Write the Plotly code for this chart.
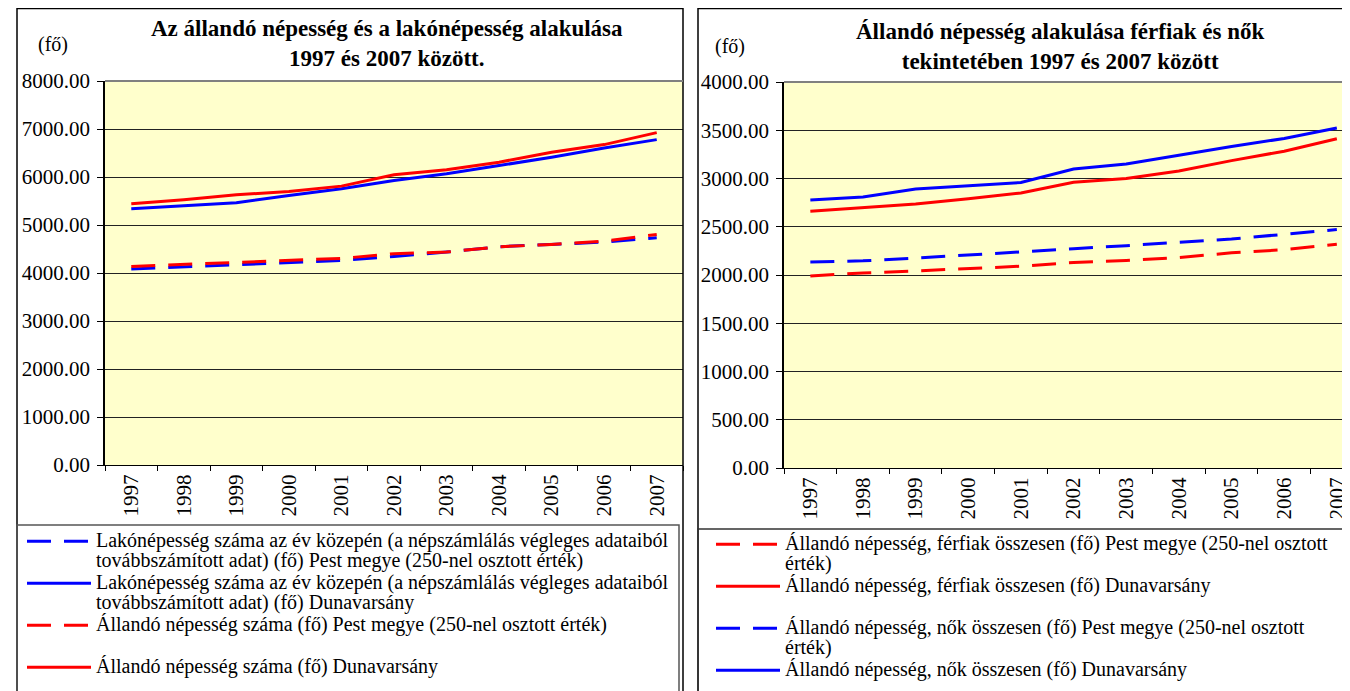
import plotly.graph_objects as go

years = ["1997", "1998", "1999", "2000", "2001", "2002", "2003", "2004", "2005", "2006", "2007"]

# Left chart (fő)
lako_pest = [4083, 4125, 4166, 4208, 4263, 4346, 4436, 4547, 4595, 4644, 4734]
lako_duna = [5339, 5402, 5464, 5616, 5754, 5927, 6066, 6239, 6412, 6606, 6779]
allando_pest = [4138, 4180, 4221, 4256, 4304, 4401, 4436, 4547, 4595, 4664, 4803]
allando_duna = [5443, 5526, 5630, 5699, 5810, 6045, 6149, 6308, 6516, 6675, 6924]

# Right chart (fő)
ferfi_pest = [1990, 2021, 2042, 2066, 2091, 2129, 2150, 2181, 2230, 2262, 2318]
ferfi_duna = [2661, 2700, 2735, 2791, 2850, 2962, 3000, 3077, 3185, 3283, 3412]
no_pest = [2136, 2147, 2175, 2206, 2234, 2272, 2304, 2339, 2373, 2422, 2471]
no_duna = [2777, 2808, 2892, 2927, 2958, 3098, 3150, 3241, 3332, 3415, 3524]

left_names = [
    "Lakónépesség száma az év közepén (a népszámlálás végleges adataiból<br>továbbszámított adat) (fő) Pest megye (250-nel osztott érték)",
    "Lakónépesség száma az év közepén (a népszámlálás végleges adataiból<br>továbbszámított adat) (fő) Dunavarsány",
    "Állandó népesség száma (fő) Pest megye (250-nel osztott érték)<br> ",
    "Állandó népesség száma (fő) Dunavarsány",
]
right_names = [
    "Állandó népesség, férfiak összesen (fő) Pest megye (250-nel osztott<br>érték)",
    "Állandó népesség, férfiak összesen (fő) Dunavarsány<br> ",
    "Állandó népesség, nők összesen (fő) Pest megye (250-nel osztott<br>érték)",
    "Állandó népesség, nők összesen (fő) Dunavarsány",
]

# The page body has an 8px margin, so the figure starts at (8, 8) in the window.
OFF = 8
W, H = 1350 - OFF, 691 - OFF
FONT = "Liberation Serif"
RED = "#FF0000"
BLUE = "#0000FF"
DASH = "24px,13px"
LEG_SPAN = '<span style="font-size:20px">{}</span>'


def px_x(v):
    return (v - OFF) / W


def px_y(v):
    return 1 - (v - OFF) / H


fig = go.Figure()

left_series = [(lako_pest, BLUE, DASH), (lako_duna, BLUE, "solid"),
               (allando_pest, RED, DASH), (allando_duna, RED, "solid")]
for (vals, col, dash), name in zip(left_series, left_names):
    fig.add_trace(go.Scatter(x=years, y=vals, mode="lines", name=LEG_SPAN.format(name),
                             line=dict(color=col, width=3, dash=dash),
                             xaxis="x", yaxis="y", legend="legend"))

right_series = [(ferfi_pest, RED, DASH), (ferfi_duna, RED, "solid"),
                (no_pest, BLUE, DASH), (no_duna, BLUE, "solid")]
for (vals, col, dash), name in zip(right_series, right_names):
    fig.add_trace(go.Scatter(x=years, y=vals, mode="lines", name=LEG_SPAN.format(name),
                             line=dict(color=col, width=3, dash=dash),
                             xaxis="x2", yaxis="y2", legend="legend2"))

tickfont = dict(family=FONT, size=21, color="#000")
xcommon = dict(type="category", showgrid=False, showline=True, linecolor="#000", linewidth=1,
               ticks="outside", tickson="boundaries", ticklen=5, tickcolor="#000",
               tickangle=-90, tickfont=tickfont, fixedrange=True, automargin=False)
ycommon = dict(showgrid=True, gridcolor="#222", gridwidth=1, showline=True, linecolor="#000",
               linewidth=1.5, ticks="outside", ticklen=6, tickcolor="#000",
               tickformat=".2f", tickfont=tickfont, zeroline=False, ticklabelstandoff=3,
               automargin=False)

legcommon = dict(xanchor="left", yanchor="top", bgcolor="rgba(0,0,0,0)", borderwidth=0,
                 itemwidth=64, valign="top", tracegroupgap=0,
                 font=dict(family=FONT, size=15, color="#000"))

fig.update_layout(
    width=W, height=H,
    margin=dict(l=0, r=0, t=0, b=0, autoexpand=False),
    paper_bgcolor="#FFFFFF",
    plot_bgcolor="#FFFFCC",
    font=dict(family=FONT, color="#000"),
    xaxis=dict(domain=[px_x(105), px_x(683)], anchor="y", range=[-0.5, 10.5], **xcommon),
    yaxis=dict(domain=[px_y(465), px_y(81)], anchor="x", range=[0, 8000], dtick=1000, **ycommon),
    xaxis2=dict(domain=[px_x(784), 1.0], anchor="y2", range=[-0.5, 10.25], **xcommon),
    yaxis2=dict(domain=[px_y(468), px_y(82)], anchor="x2", range=[0, 4000], dtick=500, **ycommon),
    legend=dict(x=px_x(22), y=px_y(525), **legcommon),
    legend2=dict(x=px_x(711), y=px_y(528), **legcommon),
    showlegend=True,
)

shapes = []
# chart outer borders
shapes.append(dict(type="rect", xref="paper", yref="paper", x0=px_x(17), x1=px_x(683),
                   y0=px_y(705), y1=px_y(8.5), line=dict(color="#000", width=1.5)))
shapes.append(dict(type="rect", xref="paper", yref="paper", x0=px_x(698), x1=px_x(1370),
                   y0=px_y(705), y1=px_y(8.5), line=dict(color="#000", width=1.5)))
# legend boxes
shapes.append(dict(type="rect", xref="paper", yref="paper", x0=px_x(17), x1=px_x(679),
                   y0=px_y(705), y1=px_y(525), line=dict(color="#555", width=1.5)))
shapes.append(dict(type="rect", xref="paper", yref="paper", x0=px_x(698), x1=px_x(1370),
                   y0=px_y(705), y1=px_y(529), line=dict(color="#333", width=1.5)))
# plot area top border (gray)
shapes.append(dict(type="line", xref="x domain", yref="y domain", x0=0, x1=1, y0=1, y1=1,
                   line=dict(color="#808080", width=2)))
shapes.append(dict(type="line", xref="x2 domain", yref="y2 domain", x0=0, x1=1, y0=1, y1=1,
                   line=dict(color="#808080", width=2)))
fig.update_layout(shapes=shapes)

annotations = [
    dict(text="<b>Az állandó népesség és a lakónépesség alakulása<br>1997 és 2007 között.</b>",
         x=px_x(387), y=px_y(14), xanchor="center", yanchor="top", size=23),
    dict(text="<b>Állandó népesség alakulása férfiak és nők<br>tekintetében 1997 és 2007 között</b>",
         x=px_x(1060), y=px_y(17), xanchor="center", yanchor="top", size=23),
    dict(text="(fő)", x=px_x(53), y=px_y(44), xanchor="center", yanchor="middle", size=20),
    dict(text="(fő)", x=px_x(730), y=px_y(47), xanchor="center", yanchor="middle", size=20),
]
ann_list = []
for a in annotations:
    size = a.pop("size")
    a.update(xref="paper", yref="paper", showarrow=False,
             font=dict(family=FONT, size=size, color="#000"))
    ann_list.append(a)
fig.update_layout(annotations=ann_list)

fig.write_html("out.html", config={"displayModeBar": False})
